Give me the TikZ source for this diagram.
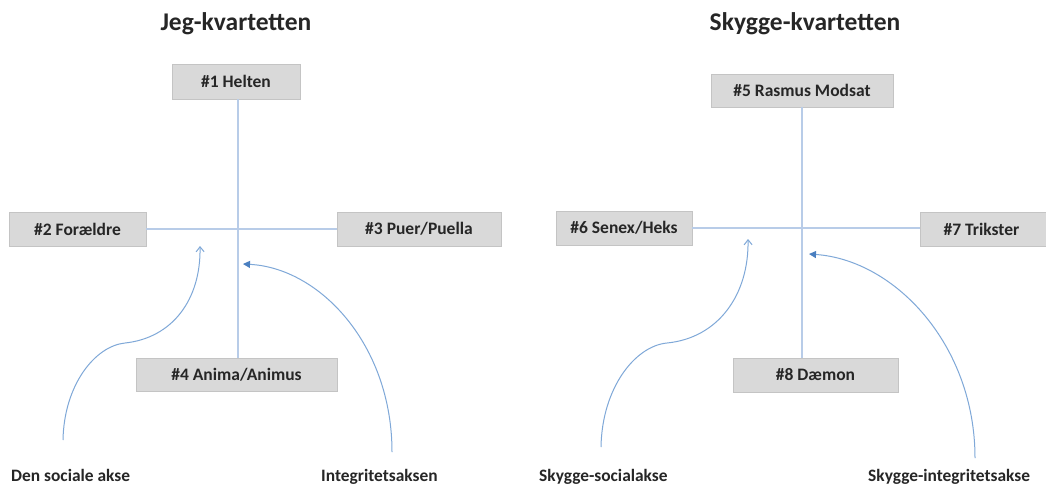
\documentclass[tikz,border=0pt]{standalone}
\usepackage{fontspec}
\setmainfont{Carlito}
\usetikzlibrary{arrows.meta}
\definecolor{boxfill}{HTML}{D9D9D9}
\definecolor{boxline}{HTML}{C4C4C4}
\definecolor{axisblue}{HTML}{B8CCE8}
\definecolor{curveblue}{HTML}{7FA8D8}
\definecolor{tipblue}{HTML}{4A7FC0}
\definecolor{txt}{HTML}{262626}
\tikzset{
  box/.style={draw=boxline, fill=boxfill, line width=0.8pt, inner sep=0pt,
    font=\bfseries\fontsize{17.5}{20}\selectfont, text=txt},
  ttl/.style={font=\bfseries\fontsize{25.5}{30}\selectfont, text=txt},
  lbl/.style={font=\bfseries\fontsize{17.4}{20}\selectfont, text=txt, inner sep=0pt},
  axis/.style={draw=axisblue, line width=1.2pt},
  openarr/.style={draw=curveblue, line width=1pt, -{Straight Barb[length=5pt,width=8pt]}},
  fillarr/.style={draw=curveblue, line width=1pt, -{Triangle[length=7pt,width=7pt,color=tipblue]}},
}
\begin{document}
\begin{tikzpicture}[x=1pt,y=-1pt]
\useasboundingbox[fill=white] (0,0) rectangle (1046,485);
% titles
\node[ttl] (t1) at (236,24) {Jeg-kvartetten};
\node[ttl] (t2) at (805,24) {Skygge-kvartetten};
% left quartet
\node[box, minimum width=128pt, minimum height=35pt] (b1) at (236,81.5) {\#1 Helten};
\node[box, minimum width=137pt, minimum height=34pt] (b2) at (77.5,229) {\#2 Forældre};
\node[box, minimum width=164pt, minimum height=34pt] (b3) at (419,229) {\#3 Puer/Puella};
\node[box, minimum width=201pt, minimum height=33pt] (b4) at (236.5,374.5) {\#4 Anima/Animus};
\draw[axis] (b2.east) -- (b3.west);
\draw[axis] (b1.south -| 238,0) -- (b4.north -| 238,0);
% right quartet
\node[box, minimum width=182pt, minimum height=33pt] (b5) at (802,90.5) {\#5 Rasmus Modsat};
\node[box, minimum width=136pt, minimum height=34pt] (b6) at (624,228) {\#6 Senex/Heks};
\node[box, minimum width=130pt, minimum height=34pt, anchor=west] (b7) at (920,229) {\hspace*{0pt}\#7 Trikster\hspace*{8pt}};
\node[box, minimum width=165pt, minimum height=34pt] (b8) at (815.5,375) {\#8 Dæmon};
\draw[axis] (b6.east) -- (b7.west |- b6.east);
\draw[axis] (b5.south -| 802,0) -- (b8.north -| 802,0);
% bottom labels
\node[lbl, anchor=base west] (l1) at (11,481) {Den sociale akse};
\node[lbl, anchor=base west] (l2) at (321,481) {Integritetsaksen};
\node[lbl, anchor=base west] (l3) at (539,481) {Skygge-socialakse};
\node[lbl, anchor=base west] (l4) at (868,481) {Skygge-integritetsakse};
% curved arrows
\coordinate (s1) at (63,440);  \coordinate (e1) at (200,246);
\coordinate (s2) at (392,452); \coordinate (e2) at (243,264);
\coordinate (s3) at (601,447); \coordinate (e3) at (748,239);
\coordinate (s4) at (975,458); \coordinate (e4) at (809,254);
\draw[openarr] (s1) .. controls (64,385) and (95,346) .. (125,343)
  .. controls (172,338) and (201,300) .. (e1);
\draw[fillarr] (s2) .. controls (392,345) and (320,268) .. (e2);
\draw[openarr] (s3) .. controls (602,388) and (635,346) .. (667,343)
  .. controls (718,338) and (749,295) .. (e3);
\draw[fillarr] (s4) .. controls (975,345) and (895,260) .. (e4);
\end{tikzpicture}
\end{document}
